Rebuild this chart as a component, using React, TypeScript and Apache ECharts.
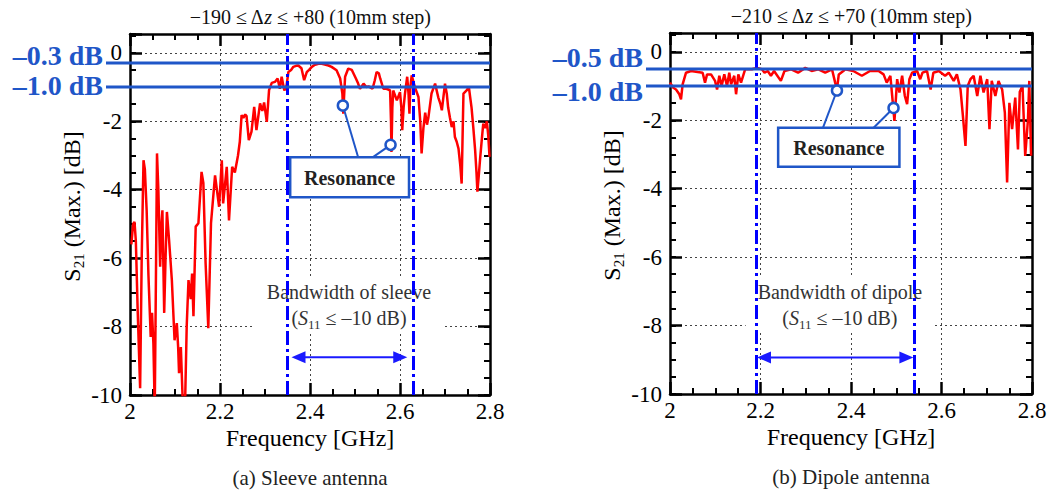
import React, { useEffect, useRef } from "react";
import * as echarts from "echarts";

const FONT = "'Liberation Serif', 'Times New Roman', serif";

// ---- data ----
const sleeveFreq = [
  2.003, 2.007, 2.01, 2.013, 2.017, 2.0225, 2.026, 2.03, 2.033, 2.037, 2.041, 2.046, 2.049, 2.052, 2.055, 2.058,
  2.06, 2.063, 2.067, 2.07, 2.072, 2.076, 2.079, 2.082, 2.087, 2.093, 2.099, 2.104, 2.107, 2.109, 2.113, 2.118,
  2.122, 2.126, 2.13, 2.135, 2.138, 2.141, 2.146, 2.152, 2.159, 2.163, 2.168, 2.174, 2.18, 2.189, 2.198, 2.204,
  2.207, 2.215, 2.22, 2.227, 2.233, 2.24, 2.244, 2.248, 2.252, 2.256, 2.259, 2.264, 2.27, 2.276, 2.281, 2.289,
  2.294, 2.298, 2.304, 2.309, 2.315, 2.322, 2.328, 2.333, 2.337, 2.343, 2.348, 2.352, 2.358, 2.363, 2.369, 2.374,
  2.381, 2.387, 2.393, 2.398, 2.404, 2.411, 2.419, 2.426, 2.433, 2.441, 2.448, 2.459, 2.467, 2.472, 2.474, 2.476,
  2.478, 2.485, 2.493, 2.502, 2.507, 2.511, 2.519, 2.525, 2.53, 2.539, 2.544, 2.548, 2.553, 2.556, 2.563, 2.57,
  2.578, 2.58, 2.581, 2.583, 2.585, 2.593, 2.6, 2.603, 2.605, 2.608, 2.611, 2.616, 2.619, 2.621, 2.623, 2.626,
  2.633, 2.641, 2.645, 2.648, 2.652, 2.656, 2.66, 2.663, 2.67, 2.678, 2.685, 2.69, 2.693, 2.7, 2.704, 2.707,
  2.711, 2.715, 2.719, 2.722, 2.726, 2.73, 2.734, 2.737, 2.739, 2.741, 2.748, 2.753, 2.756, 2.759, 2.763, 2.767,
  2.77, 2.772, 2.775, 2.778, 2.782, 2.785, 2.789, 2.793, 2.796, 2.799,
];
const sleeveS21 = [
  -5.6, -5.0, -4.94, -5.5, -7.5, -9.8, -6.0, -3.14, -3.4, -4.6, -6.5, -8.3, -7.6, -8.5, -10.4, -6.0,
  -2.94, -4.0, -6.25, -5.0, -4.6, -7.6, -6.0, -4.65, -5.5, -6.64, -8.4, -7.9, -8.6, -9.36, -8.6, -10.5,
  -10.5, -8.0, -6.64, -7.2, -6.45, -7.7, -5.08, -4.98, -3.48, -3.8, -6.15, -8.05, -4.98, -3.58, -4.5, -3.14,
  -4.4, -3.33, -4.9, -3.33, -3.5, -3.0, -2.6, -1.82, -1.9, -1.8, -1.85, -2.55, -2.3, -1.58, -2.26, -1.48,
  -1.7, -1.45, -2.02, -1.09, -0.88, -0.85, -0.75, -1.05, -0.7, -1.1, -0.95, -0.56, -0.5, -0.41, -0.38, -0.37,
  -0.45, -0.8, -0.56, -0.5, -0.41, -0.35, -0.32, -0.32, -0.34, -0.37, -0.41, -0.51, -0.75, -1.2, -1.78, -1.2,
  -0.7, -0.46, -0.5, -0.75, -0.9, -1.05, -0.9, -1.0, -0.98, -1.05, -0.8, -0.56, -0.6, -0.75, -1.05, -1.05,
  -1.1, -2.0, -2.9, -1.6, -1.1, -1.39, -1.15, -1.6, -2.26, -1.6, -1.2, -0.7, -1.2, -1.78, -1.0, -0.66,
  -1.0, -1.29, -2.0, -2.94, -2.2, -1.75, -2.1, -1.9, -1.19, -0.9, -1.3, -1.5, -1.68, -0.9, -1.2, -1.6,
  -1.9, -2.17, -2.0, -2.46, -2.6, -2.8, -3.3, -3.82, -2.5, -1.19, -1.1, -1.0, -1.3, -1.6, -2.2, -2.85,
  -3.5, -4.06, -3.6, -3.1, -2.5, -2.07, -2.2, -2.0, -2.4, -3.04,
];

const dipoleFreq = [
  2.0, 2.0073, 2.0133, 2.0206, 2.0243, 2.0279, 2.0354, 2.0465, 2.0611, 2.0721, 2.0774, 2.0819, 2.0907, 2.0996,
  2.104, 2.109, 2.114, 2.12, 2.126, 2.131, 2.135, 2.142, 2.146, 2.151, 2.157, 2.166, 2.181, 2.192, 2.203, 2.209,
  2.216, 2.223, 2.23, 2.245, 2.253, 2.268, 2.283, 2.299, 2.313, 2.328, 2.343, 2.358, 2.365, 2.369, 2.373, 2.383,
  2.387, 2.405, 2.424, 2.442, 2.461, 2.472, 2.479, 2.487, 2.491, 2.496, 2.502, 2.507, 2.513, 2.519, 2.524, 2.529,
  2.535, 2.546, 2.553, 2.558, 2.568, 2.576, 2.582, 2.594, 2.608, 2.616, 2.627, 2.634, 2.642, 2.647, 2.653, 2.658,
  2.664, 2.671, 2.679, 2.686, 2.693, 2.701, 2.706, 2.711, 2.719, 2.726, 2.734, 2.74, 2.745, 2.75, 2.756, 2.763,
  2.769, 2.773, 2.779, 2.785, 2.791, 2.794, 2.798,
];
const dipoleS21 = [
  -0.9, -1.05, -1.1, -1.24, -1.39, -0.95, -0.61, -0.56, -0.59, -0.61, -0.9, -0.66, -0.66, -0.85,
  -1.1, -0.7, -1.0, -0.66, -1.0, -0.61, -0.95, -0.7, -1.24, -0.66, -0.9, -0.51, -0.51, -0.47, -0.51, -0.61,
  -0.56, -0.7, -0.56, -0.85, -0.56, -0.51, -0.61, -0.47, -0.56, -0.51, -0.61, -0.51, -0.9, -1.1, -0.66, -0.56,
  -0.51, -0.56, -0.7, -0.56, -0.56, -0.66, -0.9, -0.7, -1.29, -2.02, -0.8, -1.19, -0.7, -1.29, -1.53, -0.8,
  -0.61, -0.56, -0.8, -0.61, -0.56, -1.1, -0.61, -0.56, -0.7, -0.61, -0.85, -0.66, -1.1, -1.83, -2.75, -1.0,
  -0.8, -0.7, -1.29, -0.7, -1.19, -0.8, -2.26, -0.85, -1.29, -0.85, -1.1, -1.78, -3.82, -1.49, -2.26, -1.34,
  -2.85, -1.17, -1.0, -3.04, -2.0, -0.85, -3.04,
];

const freqMin = 2;
const freqMax = 2.8;
const freqStep = 0.2;
const s21Min = -10;
const s21Max = 0.55;
const s21Step = 2;
const s21MinorStep = 0.5;

const sleeveLevels = [-0.3, -1.0];
const dipoleLevels = [-0.5, -1.0];
const sleeveLevelLabels = ["–0.3 dB", "–1.0 dB"];
const dipoleLevelLabels = ["–0.5 dB", "–1.0 dB"];
const sleeveBand = [2.35, 2.625];
const dipoleBand = [2.19, 2.54];
const sleeveArrowLevel = -8.9;
const dipoleArrowLevel = -8.93;
const sleeveResonance = [
  [2.473, -1.54],
  [2.579, -2.69],
];
const dipoleResonance = [
  [2.369, -1.13],
  [2.494, -1.64],
];
const sleeveBox = [2.356, -3.05, 2.62, -4.22];
const dipoleBox = [2.239, -2.22, 2.507, -3.36];
const sleeveLinkX = [2.507, 2.54];
const dipoleLinkX = [2.338, 2.45];
const sleeveNoteAt = [2.4867, -7.37];
const dipoleNoteAt = [2.3754, -7.4];

const titles = ["{n|−190 ≤ Δ}{i|z}{n| ≤ +80 (10mm step)}", "{n|−210 ≤ Δ}{i|z}{n| ≤ +70 (10mm step)}"];
const captions = ["(a) Sleeve antenna", "(b) Dipole antenna"];
const noteNames = ["Bandwidth of sleeve", "Bandwidth of dipole"];
const xTitle = "Frequency [GHz]";
const resonanceText = "Resonance";

const grids = [
  { left: 130, top: 34, width: 360, height: 361 },
  { left: 670, top: 33, width: 362, height: 361 },
];

const panels = [
  {
    freq: sleeveFreq, s21: sleeveS21, levels: sleeveLevels, levelLabels: sleeveLevelLabels, labelOffsets: [-8, -2],
    band: sleeveBand, arrowLevel: sleeveArrowLevel, resonance: sleeveResonance, box: sleeveBox, linkX: sleeveLinkX,
    noteAt: sleeveNoteAt, arrowInset: 4,
  },
  {
    freq: dipoleFreq, s21: dipoleS21, levels: dipoleLevels, levelLabels: dipoleLevelLabels, labelOffsets: [-11, 5],
    band: dipoleBand, arrowLevel: dipoleArrowLevel, resonance: dipoleResonance, box: dipoleBox, linkX: dipoleLinkX,
    noteAt: dipoleNoteAt, arrowInset: 1,
  },
];

const BLUE = "#1f56c8";
const ARROW = "#1a1aff";

function buildOption(): any {
  const xAxis: any[] = [];
  const yAxis: any[] = [];
  const series: any[] = [];
  grids.forEach((_, gi) => {
    const frame = { show: true, onZero: false, lineStyle: { color: "#000", width: 2.5 } };
    xAxis.push({
      type: "value", gridIndex: gi, position: "bottom", min: freqMin, max: freqMax, interval: freqStep,
      axisLine: frame,
      axisTick: { show: true, inside: true, length: 12, lineStyle: { color: "#000", width: 2.5 } },
      minorTick: { show: true, splitNumber: 4, length: 6, lineStyle: { color: "#000", width: 2 } },
      splitLine: { show: true, lineStyle: { color: "#444", type: [2, 3], width: 1 } },
      axisLabel: {
        show: true, margin: 5, fontFamily: FONT, fontSize: 23, color: "#000",
        formatter: (v: number) => String(Math.round(v * 10) / 10),
      },
    });
    xAxis.push({
      type: "value", gridIndex: gi, position: "top", min: freqMin, max: freqMax, interval: freqStep,
      axisLine: frame,
      axisTick: { show: true, inside: true, length: 12, lineStyle: { color: "#000", width: 2.5 } },
      minorTick: { show: true, splitNumber: 4, length: 6, lineStyle: { color: "#000", width: 2 } },
      splitLine: { show: false },
      axisLabel: { show: false },
    });
    const majorY = (pos: string, labels: boolean, grid: boolean) => ({
      type: "value", gridIndex: gi, position: pos, min: s21Min, max: s21Max, interval: s21Step,
      axisLine: frame,
      axisTick: { show: true, inside: true, length: 12, lineStyle: { color: "#000", width: 2.5 } },
      splitLine: { show: grid, lineStyle: { color: "#444", type: [2, 3], width: 1 } },
      axisLabel: labels
        ? {
            show: true, margin: 8, fontFamily: FONT, fontSize: 23, color: "#000",
            formatter: (v: number) => (Math.abs(v % s21Step) < 1e-6 ? String(Math.round(v)) : ""),
          }
        : { show: false },
    });
    const minorY = (pos: string) => ({
      type: "value", gridIndex: gi, position: pos, min: s21Min, max: s21Max, interval: s21MinorStep,
      axisLine: { show: false },
      axisTick: { show: true, inside: true, length: 6, lineStyle: { color: "#000", width: 2 } },
      splitLine: { show: false },
      axisLabel: { show: false },
    });
    yAxis.push(majorY("left", true, true), minorY("left"), majorY("right", false, false), minorY("right"));

    const p = panels[gi];
    const xi = gi * 2;
    const yi = gi * 4;
    series.push({
      type: "line", xAxisIndex: xi, yAxisIndex: yi, showSymbol: false, symbol: "none", z: 3,
      lineStyle: { color: "#ff0000", width: 2.5 },
      data: p.freq.map((f, k) => [f, p.s21[k]]),
      silent: true,
    });
    series.push({
      type: "line", xAxisIndex: xi, yAxisIndex: yi, data: [], z: 9, silent: true,
      markLine: {
        silent: true, symbol: ["none", "none"], label: { show: false },
        lineStyle: { color: "#0000ff", width: 3, type: [14, 4, 3, 4] },
        data: p.band.map((b) => ({ xAxis: b })),
      },
    });
    series.push({
      type: "scatter", xAxisIndex: xi, yAxisIndex: yi, z: 12, symbol: "circle", symbolSize: 10, silent: true,
      itemStyle: { color: "#ffffff", borderColor: BLUE, borderWidth: 2.5, opacity: 1 },
      data: p.resonance,
    });
  });
  return {
    animation: false,
    backgroundColor: "#ffffff",
    textStyle: { fontFamily: FONT },
    grid: grids,
    xAxis,
    yAxis,
    series,
  };
}

function buildGraphic(chart: any): any[] {
  const els: any[] = [];
  panels.forEach((p, i) => {
    const xi = i * 2;
    const yi = i * 4;
    const toPx = (pt: number[]) => chart.convertToPixel({ xAxisIndex: xi, yAxisIndex: yi }, pt) as number[];
    const [gl, gb] = toPx([freqMin, s21Min]);
    const [gr, gt] = toPx([freqMax, s21Max]);
    const cx = (gl + gr) / 2;

    els.push({
      type: "text", x: cx, y: gt - 17, z: 20,
      style: {
        text: titles[i], align: "center", verticalAlign: "middle",
        rich: {
          n: { fontFamily: FONT, fontSize: 20, fill: "#111" },
          i: { fontFamily: FONT, fontSize: 20, fontStyle: "italic", fill: "#111" },
        },
      },
    });
    els.push({
      type: "text", x: cx, y: gb + 43, z: 20,
      style: { text: xTitle, align: "center", verticalAlign: "middle", font: `24px ${FONT}`, fill: "#000" },
    });
    els.push({
      type: "text", x: cx, y: gb + 83, z: 20,
      style: { text: captions[i], align: "center", verticalAlign: "middle", font: `21px ${FONT}`, fill: "#222" },
    });
    els.push({
      type: "text", x: gl - 58, y: (gt + gb) / 2 - 8, rotation: Math.PI / 2, z: 20,
      style: {
        text: "{n|S}{s|21}{n| (Max.) [dB]}", align: "center", verticalAlign: "middle",
        rich: {
          n: { fontFamily: FONT, fontSize: 24, lineHeight: 28, fill: "#000" },
          s: { fontFamily: FONT, fontSize: 15, lineHeight: 10, verticalAlign: "bottom", fill: "#000" },
        },
      },
    });

    // reference levels
    p.levels.forEach((lv, k) => {
      const y = toPx([freqMin, lv])[1];
      els.push({
        type: "line", z: 10, shape: { x1: gl - 24, y1: y, x2: gr, y2: y },
        style: { stroke: BLUE, lineWidth: 3 },
      });
      els.push({
        type: "text", x: gl - 27, y: y + p.labelOffsets[k], z: 10,
        style: {
          text: p.levelLabels[k], align: "right", verticalAlign: "middle",
          font: `bold 28px ${FONT}`, fill: BLUE,
        },
      });
    });

    // bandwidth note
    const [nx, ny] = toPx(p.noteAt);
    els.push({
      type: "text", x: nx, y: ny, z: 1,
      style: {
        text: `{n|${noteNames[i]}}\n{n|(}{i|S}{s|11}{n| ≤ –10 dB)}`,
        align: "center", verticalAlign: "middle", backgroundColor: "#ffffff", padding: [2, 12],
        rich: {
          n: { fontFamily: FONT, fontSize: 20, lineHeight: 26, fill: "#333" },
          i: { fontFamily: FONT, fontSize: 20, lineHeight: 26, fontStyle: "italic", fill: "#333" },
          s: { fontFamily: FONT, fontSize: 13, lineHeight: 14, verticalAlign: "bottom", fill: "#333" },
        },
      },
    });

    // arrow
    const [ax0, ay] = toPx([p.band[0], p.arrowLevel]);
    const ax1 = toPx([p.band[1], p.arrowLevel])[0];
    const t0 = ax0 + p.arrowInset;
    const t1 = ax1 - p.arrowInset;
    const head = 14;
    const half = 6;
    els.push({
      type: "line", z: 8, shape: { x1: t0 + head - 2, y1: ay, x2: t1 - head + 2, y2: ay },
      style: { stroke: ARROW, lineWidth: 2 },
    });
    els.push({
      type: "polygon", z: 8,
      shape: { points: [[t0, ay], [t0 + head, ay - half], [t0 + head, ay + half]] },
      style: { fill: ARROW },
    });
    els.push({
      type: "polygon", z: 8,
      shape: { points: [[t1, ay], [t1 - head, ay - half], [t1 - head, ay + half]] },
      style: { fill: ARROW },
    });

    // resonance box
    const [bx0, by0] = toPx([p.box[0], p.box[1]]);
    const [bx1, by1] = toPx([p.box[2], p.box[3]]);
    p.resonance.forEach((r, k) => {
      const [rx, ry] = toPx(r);
      const lx = toPx([p.linkX[k], p.box[1]])[0];
      els.push({
        type: "line", z: 11, shape: { x1: rx, y1: ry, x2: lx, y2: by0 },
        style: { stroke: BLUE, lineWidth: 2 },
      });
    });
    els.push({
      type: "rect", z: 11,
      shape: { x: bx0, y: by0, width: bx1 - bx0, height: by1 - by0 },
      style: { fill: "#ffffff", stroke: BLUE, lineWidth: 2.5 },
    });
    els.push({
      type: "text", x: (bx0 + bx1) / 2, y: (by0 + by1) / 2 + 1, z: 12,
      style: {
        text: resonanceText, align: "center", verticalAlign: "middle",
        font: `bold 20px ${FONT}`, fill: "#222",
      },
    });
  });
  return els;
}

export default function App() {
  const ref = useRef<HTMLDivElement>(null);
  useEffect(() => {
    if (!ref.current) return;
    const chart = echarts.init(ref.current, null, { renderer: "svg" });
    chart.setOption(buildOption());
    chart.setOption({ graphic: { elements: buildGraphic(chart) } });
    return () => {
      chart.dispose();
    };
  }, []);
  return (
    <div
      ref={ref}
      style={{ position: "fixed", left: 0, top: 0, width: 1051, height: 491, background: "#ffffff" }}
    />
  );
}
